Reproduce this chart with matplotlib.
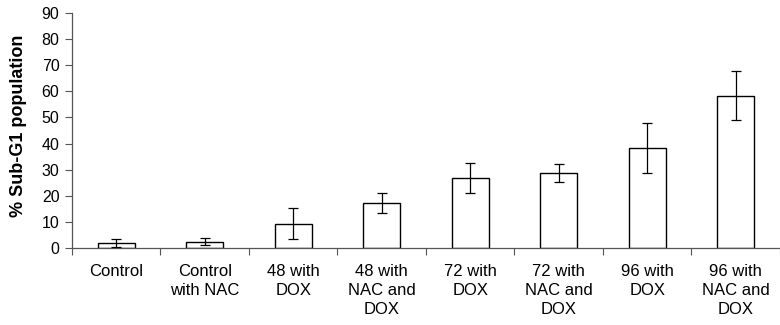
import matplotlib
matplotlib.use("Agg")
import matplotlib.pyplot as plt
import numpy as np

plt.rcParams['font.family'] = ['Liberation Sans', 'DejaVu Sans']

categories = ["Control", "Control\nwith NAC", "48 with\nDOX", "48 with\nNAC and\nDOX",
              "72 with\nDOX", "72 with\nNAC and\nDOX", "96 with\nDOX", "96 with\nNAC and\nDOX"]
values = [1.8, 2.3, 9.2, 17.3, 26.8, 28.8, 38.4, 58.4]
errors = [1.4, 1.3, 5.9, 3.8, 5.8, 3.5, 9.6, 9.5]

fig = plt.figure(figsize=(7.8, 3.25), dpi=100)
ax = fig.add_axes([0.0923, 0.2378, 0.9077, 0.7212])

x = np.arange(len(categories))
ax.bar(x, values, width=0.42, color='white', edgecolor='black', linewidth=1.0, zorder=2)
ax.errorbar(x, values, yerr=errors, fmt='none', ecolor='black', elinewidth=0.9,
            capsize=3.3, capthick=0.9, zorder=3)

ax.set_xlim(-0.5, len(categories) - 0.5)
ax.set_ylim(0, 90)
ax.set_yticks(np.arange(0, 91, 10))

ax.set_xticks(x)
ax.set_xticklabels(categories, fontsize=12, linespacing=1.3)
ax.set_xticks(np.arange(-0.5, len(categories), 1.0), minor=True)
ax.tick_params(axis='x', which='major', length=0, pad=12)
ax.tick_params(axis='x', which='minor', length=5, width=0.8, direction='out', color='#555555')
ax.tick_params(axis='y', length=5, width=0.8, direction='out', pad=4, labelsize=11.5, color='#555555')

ax.spines['top'].set_visible(False)
ax.spines['right'].set_visible(False)
for s in ['left', 'bottom']:
    ax.spines[s].set_color('#555555')
    ax.spines[s].set_linewidth(0.9)

ax.set_ylabel("% Sub-G1 population", fontsize=13, fontweight='bold')
ax.yaxis.set_label_coords(-0.0635, 0.52)

fig.savefig("out.png", dpi=100)
